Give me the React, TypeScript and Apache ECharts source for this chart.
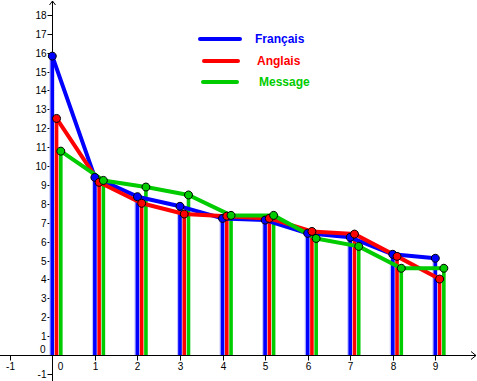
import React, { useEffect, useRef } from 'react';
import * as echarts from 'echarts';

// ---- data ----
const positions = [0, 1, 2, 3, 4, 5, 6, 7, 8, 9];
const francais = [15.82, 9.4, 8.38, 7.87, 7.23, 7.14, 6.44, 6.23, 5.33, 5.12];
const anglais = [12.52, 9.14, 8.03, 7.46, 7.35, 7.23, 6.54, 6.4, 5.22, 4.02];
const message = [10.79, 9.24, 8.89, 8.47, 7.39, 7.39, 6.17, 5.75, 4.59, 4.59];
const seriesNames = ['Français', 'Anglais', 'Message'];
const xTickValues = [-1, 0, 1, 2, 3, 4, 5, 6, 7, 8, 9];
const yTickValues = [-1, 0, 1, 2, 3, 4, 5, 6, 7, 8, 9, 10, 11, 12, 13, 14, 15, 16, 17, 18];

// ---- view ----
const X_MIN = -1.229;
const X_MAX = 9.979;
const Y_MIN = -1.376;
const Y_MAX = 18.79;
const SHIFTS = [0, 0.1, 0.2];
const COLORS = ['#0000ff', '#ff0000', '#00cc00'];
const FONT = 'Liberation Sans, Arial, sans-serif';

function buildOption() {
  const valueSets = [francais, anglais, message];
  const series: any[] = [];

  // axes drawn with the library's coordinate system
  series.push({
    type: 'custom',
    silent: true,
    z: 1,
    clip: false,
    data: [[0, 0]],
    renderItem: (_p: any, api: any) => {
      const o = api.coord([0, 0]);
      const ox = Math.round(o[0]) + 0.5;
      const oy = Math.round(o[1]) + 0.5;
      const left = api.coord([X_MIN, 0])[0];
      const right = api.coord([X_MAX, 0])[0] - 1;
      const bottom = api.coord([0, Y_MIN])[1];
      const top = api.coord([0, Y_MAX])[1] + 1;
      const ch: any[] = [];
      const st = { stroke: '#000', lineWidth: 1, fill: null };
      ch.push({ type: 'line', shape: { x1: left, y1: oy, x2: right, y2: oy }, style: st });
      ch.push({ type: 'polyline', shape: { points: [[right - 5, oy - 4], [right, oy], [right - 5, oy + 4]] }, style: st });
      ch.push({ type: 'line', shape: { x1: ox, y1: bottom, x2: ox, y2: top }, style: st });
      ch.push({ type: 'polyline', shape: { points: [[ox - 3, top + 4], [ox, top], [ox + 3, top + 4]] }, style: st });
      xTickValues.forEach((v) => {
        const x = Math.round(api.coord([v, 0])[0]) + 0.5;
        if (v !== 0) {
          ch.push({ type: 'line', shape: { x1: x, y1: oy, x2: x, y2: oy + 5 }, style: st });
          ch.push({ type: 'text', style: { text: String(v), x: x, y: oy + 11, align: 'center', verticalAlign: 'middle', fill: '#000', font: `10px ${FONT}` } });
        } else {
          ch.push({ type: 'text', style: { text: '0', x: x + 8, y: oy + 11, align: 'center', verticalAlign: 'middle', fill: '#000', font: `10px ${FONT}` } });
        }
      });
      yTickValues.forEach((v) => {
        const y = Math.round(api.coord([0, v])[1]) + 0.5;
        if (v !== 0) {
          ch.push({ type: 'line', shape: { x1: ox - 5, y1: y, x2: ox, y2: y }, style: st });
          ch.push({ type: 'text', style: { text: String(v), x: ox - 6, y: y, align: 'right', verticalAlign: 'middle', fill: '#000', font: `10px ${FONT}` } });
        } else {
          ch.push({ type: 'text', style: { text: '0', x: ox - 7, y: y - 6, align: 'right', verticalAlign: 'middle', fill: '#000', font: `10px ${FONT}` } });
        }
      });
      return { type: 'group', children: ch };
    },
  });

  // vertical bars
  valueSets.forEach((vals, si) => {
    series.push({
      type: 'custom',
      name: seriesNames[si] + ' barres',
      silent: true,
      z: 2,
      data: positions.map((p, i) => [p + SHIFTS[si], vals[i]]),
      renderItem: (_p: any, api: any) => {
        const base = api.coord([api.value(0), 0]);
        const tip = api.coord([api.value(0), api.value(1)]);
        const ch: any[] = [];
        if (si === 0) {
          ch.push({ type: 'line', shape: { x1: base[0] - 0.5, y1: base[1], x2: tip[0] - 0.5, y2: tip[1] }, style: { stroke: '#c4c4ff', lineWidth: 5 } });
        }
        ch.push({ type: 'line', shape: { x1: base[0], y1: base[1], x2: tip[0], y2: tip[1] }, style: { stroke: COLORS[si], lineWidth: 3.6 } });
        return { type: 'group', children: ch };
      },
    });
  });

  // polylines
  valueSets.forEach((vals, si) => {
    series.push({
      type: 'line',
      name: seriesNames[si],
      z: 3,
      showSymbol: false,
      silent: true,
      data: positions.map((p, i) => [p + SHIFTS[si], vals[i]]),
      lineStyle: { color: COLORS[si], width: 4 },
    });
  });

  // points
  valueSets.forEach((vals, si) => {
    series.push({
      type: 'scatter',
      name: seriesNames[si] + ' points',
      z: 4,
      silent: true,
      symbol: 'circle',
      symbolSize: 8,
      data: positions.map((p, i) => [p + SHIFTS[si], vals[i]]),
      itemStyle: { color: COLORS[si], borderColor: '#000', borderWidth: 1, opacity: 1 },
    });
  });

  const legendY = [39, 61, 82];
  const legendLineX = [[200, 240], [204, 238], [203, 237]];
  const legendTextX = [255, 257, 259];
  const graphic: any[] = [];
  seriesNames.forEach((n, i) => {
    graphic.push({
      type: 'line',
      shape: { x1: legendLineX[i][0], y1: legendY[i], x2: legendLineX[i][1], y2: legendY[i] },
      style: { stroke: COLORS[i], lineWidth: 4, lineCap: 'round' },
      z: 10,
    });
    graphic.push({
      type: 'text',
      x: legendTextX[i],
      y: legendY[i],
      style: { text: n, fill: COLORS[i], font: `bold 12px ${FONT}`, verticalAlign: 'middle', align: 'left' },
      z: 10,
    });
  });

  return {
    animation: false,
    backgroundColor: '#ffffff',
    grid: { left: 0, right: 0, top: 0, bottom: 0 },
    xAxis: { type: 'value', min: X_MIN, max: X_MAX, show: false },
    yAxis: { type: 'value', min: Y_MIN, max: Y_MAX, show: false },
    graphic,
    series,
  };
}

export default function App() {
  const ref = useRef<HTMLDivElement>(null);
  useEffect(() => {
    if (!ref.current) return;
    const chart = echarts.init(ref.current, null, { renderer: 'svg' });
    chart.setOption(buildOption() as any);
    return () => chart.dispose();
  }, []);
  return (
    <div
      ref={ref}
      style={{ position: 'absolute', left: 0, top: 0, width: 477, height: 381 }}
    />
  );
}
